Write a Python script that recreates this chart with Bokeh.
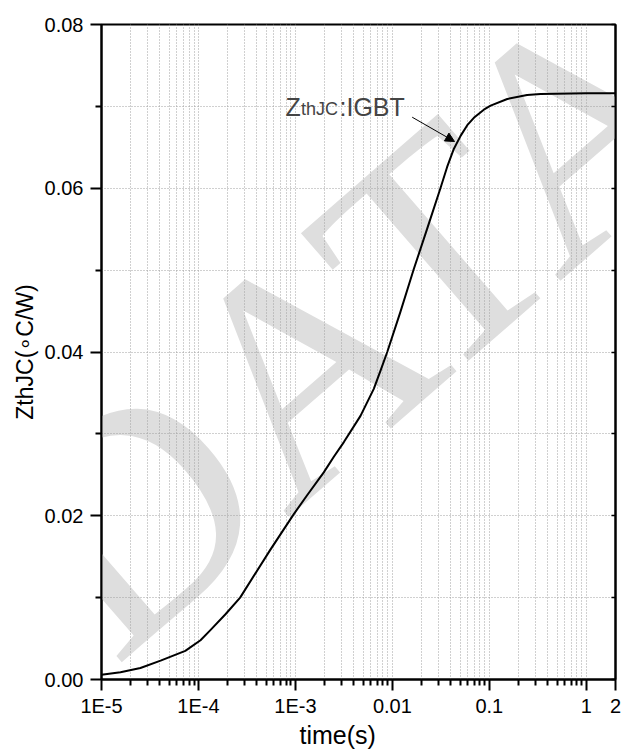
import math
from bokeh.plotting import figure
from bokeh.models import (FixedTicker, LinearAxis, Label, Arrow, NormalHead,
                          ColumnDataSource, Range1d, Title)
from bokeh.embed import file_html
from bokeh.resources import INLINE

# ---- data ----
time_s = [1.00e-5, 1.57e-5, 2.52e-5, 4.07e-5, 7.31e-5, 1.05e-4, 1.32e-4, 1.91e-4,
          2.69e-4, 5.48e-4, 9.62e-4, 1.32e-3, 1.96e-3, 2.49e-3, 3.16e-3, 4.69e-3,
          6.43e-3, 7.53e-3, 8.85e-3, 1.21e-2, 1.66e-2, 2.29e-2, 3.13e-2, 3.67e-2,
          4.30e-2, 5.05e-2, 5.92e-2, 6.92e-2, 8.77e-2, 0.103, 0.153, 0.245,
          0.337, 1.0, 2.0]
zth_igbt = [0.00057, 0.00089, 0.0014, 0.0023, 0.0035, 0.0048, 0.0060, 0.0080,
            0.0100, 0.0158, 0.0202, 0.0225, 0.0253, 0.0272, 0.0290, 0.0322,
            0.0355, 0.0377, 0.0400, 0.0449, 0.0501, 0.0551, 0.0600, 0.0626,
            0.0648, 0.0664, 0.0677, 0.0686, 0.0696, 0.0701, 0.0709, 0.0714,
            0.0715, 0.0716, 0.0716]

x_major = [1e-5, 1e-4, 1e-3, 1e-2, 1e-1, 1.0, 2.0]
x_labels = ["1E-5", "1E-4", "1E-3", "0.01", "0.1", "1", "2"]
x_minor = [m * 10.0 ** e for e in range(-5, 0) for m in range(2, 10)]
y_major = [0.0, 0.02, 0.04, 0.06, 0.08]
y_labels = ["0.00", "0.02", "0.04", "0.06", "0.08"]
y_minor = [0.01, 0.03, 0.05, 0.07]

X0, X1 = 1e-5, 2.0
Y0, Y1 = 0.0, 0.08

FONT = "Liberation Sans"

p = figure(frame_width=514, frame_height=655, x_axis_type="log",
           x_range=Range1d(X0, X1), y_range=Range1d(Y0, Y1),
           output_backend="svg", toolbar_location=None,
           min_border_left=101, min_border_right=6,
           min_border_top=24, min_border_bottom=64)
p.background_fill_color = "white"
p.border_fill_color = "white"
p.outline_line_color = "black"
p.outline_line_width = 2

# helpers mapping picture pixel positions (frame 101..615 x 24..679) to data
FL, FR, FT, FB = 101, 615, 24, 679
def xd(px):
    lo, hi = math.log10(X0), math.log10(X1)
    return 10 ** (lo + (px - FL) / (FR - FL) * (hi - lo))
def yd(py):
    return Y0 + (FB - py) / (FB - FT) * (Y1 - Y0)

# watermark
p.add_layout(Label(x=xd(352), y=yd(320), text="DATA", angle=math.radians(41),
                   text_font="Liberation Serif", text_font_size="315px",
                   text_color="#dedede", text_align="center",
                   text_baseline="middle", level="image"))

# x axis
xa = p.xaxis[0]
xa.ticker = FixedTicker(ticks=x_major, minor_ticks=x_minor)
xa.major_label_overrides = {float(t): l for t, l in zip(x_major, x_labels)}
# y axis
ya = p.yaxis[0]
ya.ticker = FixedTicker(ticks=y_major, minor_ticks=y_minor)
ya.major_label_overrides = {float(t): l for t, l in zip(y_major, y_labels)}

for ax in (xa, ya):
    ax.axis_line_width = 2
    ax.axis_line_color = "black"
    ax.major_tick_line_width = 2
    ax.minor_tick_line_width = 2
    ax.major_tick_line_color = "black"
    ax.minor_tick_line_color = "black"
    ax.major_tick_in = 0
    ax.minor_tick_in = 0
    ax.major_tick_out = 11
    ax.minor_tick_out = 6
    ax.major_label_text_font = FONT
    ax.major_label_text_font_size = "20px"
    ax.major_label_text_color = "black"
xa.major_label_standoff = 4
ya.major_label_standoff = 7

ya.axis_label = "ZthJC(\u2218C/W)"
ya.axis_label_text_font = FONT
ya.axis_label_text_font_size = "23px"
ya.axis_label_text_font_style = "normal"
ya.axis_label_text_color = "black"
ya.axis_label_standoff = 4

# right axis with inward ticks
ra = LinearAxis(ticker=FixedTicker(ticks=y_major, minor_ticks=y_minor),
                axis_line_width=2, axis_line_color="black",
                major_tick_in=4, major_tick_out=0, minor_tick_in=4, minor_tick_out=0,
                major_tick_line_width=1.5, minor_tick_line_width=1.5,
                major_label_text_font_size="1px", major_label_text_alpha=0,
                major_label_standoff=0)
p.add_layout(ra, "right")

# x axis title
p.add_layout(Title(text="time(s)", align="left", offset=198, standoff=3,
                   vertical_align="top",
                   text_font=FONT, text_font_size="25px", text_font_style="normal",
                   text_color="black"), "below")

# grids
for g in (p.xgrid[0], p.ygrid[0]):
    g.grid_line_color = "#a0a0a0"
    g.grid_line_dash = "1 2"
    g.grid_line_width = 1
    g.minor_grid_line_color = "#a0a0a0"
    g.minor_grid_line_dash = "1 2"
    g.minor_grid_line_width = 1

# curve
src = ColumnDataSource(dict(t=time_s, z=zth_igbt))
p.line("t", "z", source=src, line_color="black", line_width=2, line_join="round")

# annotation (ZthJC:IGBT with smaller "thJC")
p.add_layout(Label(x=xd(285), y=yd(106), text="Z", text_font=FONT,
                   text_font_size="25px", text_align="left", text_baseline="alphabetic"))
p.add_layout(Label(x=xd(300.5), y=yd(108.5), text="thJC", text_font=FONT,
                   text_font_size="18px", text_align="left", text_baseline="alphabetic"))
p.add_layout(Label(x=xd(339), y=yd(106), text=":IGBT", text_font=FONT,
                   text_font_size="25px", text_align="left", text_baseline="alphabetic"))
p.add_layout(Arrow(x_start=xd(411.7), y_start=yd(116.7), x_end=xd(454), y_end=yd(141),
                   line_color="black", line_width=1,
                   end=NormalHead(size=9, fill_color="black", line_color="black")))

open("out.html", "w").write(file_html(p, INLINE))
